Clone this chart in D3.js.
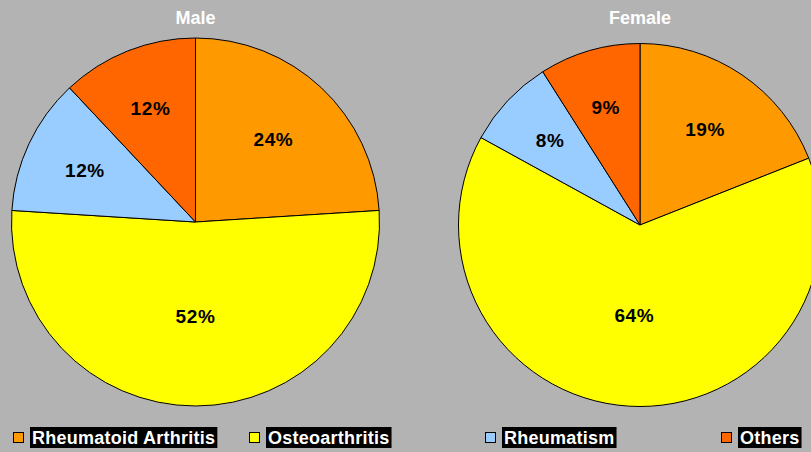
<!DOCTYPE html>
<html>
<head>
<meta charset="utf-8">
<script src="https://cdn.jsdelivr.net/npm/d3@7"></script>
<style>
  body { margin: 0; background: #b3b3b3; }
  svg { display: block; font-family: "Liberation Sans", Arial, sans-serif; font-weight: bold; }
  .slice { stroke: #000; stroke-width: 1; }
  .title { fill: #fff; font-size: 18px; }
  .pct { fill: #000; font-size: 19px; letter-spacing: 0.6px; }
  .legtext { fill: #fff; font-size: 18px; letter-spacing: 0.25px; }
</style>
</head>
<body>
<svg></svg>
<script>
var categories = ["Rheumatoid Arthritis", "Osteoarthritis", "Rheumatism", "Others"];
var maleValues = [24, 52, 12, 12];
var femaleValues = [19, 64, 8, 9];
var colors = ["#ff9900", "#ffff00", "#99ccff", "#ff6600"];

var width = 811, height = 452;
var svg = d3.select("svg").attr("width", width).attr("height", height);

svg.append("rect").attr("width", width).attr("height", height).attr("fill", "#b3b3b3");

var color = d3.scaleOrdinal().domain(categories).range(colors);

var pies = [
  { title: "Male", values: maleValues, cx: 195.5, cy: 222, r: 184 },
  { title: "Female", values: femaleValues, cx: 640, cy: 225, r: 181.5 }
];

var pie = d3.pie().sort(null).value(d => d.value);

pies.forEach(p => {
  var data = categories.map((c, i) => ({ name: c, value: p.values[i] }));
  var total = d3.sum(p.values);
  var arc = d3.arc().innerRadius(0).outerRadius(p.r);
  var g = svg.append("g").attr("transform", "translate(" + p.cx + "," + p.cy + ")");

  g.selectAll("path")
    .data(pie(data))
    .enter()
    .append("path")
    .attr("class", "slice")
    .attr("fill", d => color(d.data.name))
    .attr("d", arc);

  // labels sit closer to centre for bigger slices
  g.selectAll("text")
    .data(pie(data))
    .enter()
    .append("text")
    .attr("class", "pct")
    .attr("text-anchor", "middle")
    .attr("dy", "0.36em")
    .attr("transform", d => {
      var a = (d.startAngle + d.endAngle) / 2;
      var k = Math.max(0.5, 0.71 - 0.38 * d.data.value / total);
      return "translate(" + (Math.sin(a) * p.r * k) + "," + (-Math.cos(a) * p.r * k) + ")";
    })
    .text(d => d.data.value + "%");

  svg.append("text")
    .attr("class", "title")
    .attr("x", p.cx)
    .attr("y", 24)
    .attr("text-anchor", "middle")
    .text(p.title);
});

// legend
var lx = d3.scaleLinear().domain([0, 3]).range([13, 721]);
var leg = svg.selectAll(".leg")
  .data(categories)
  .enter()
  .append("g")
  .attr("class", "leg")
  .attr("transform", (d, i) => "translate(" + Math.round(lx(i)) + ",0)");

leg.append("rect")
  .attr("x", 0.5).attr("y", 432.5)
  .attr("width", 10).attr("height", 10)
  .attr("fill", d => color(d))
  .attr("stroke", "#000");

var bg = leg.append("rect")
  .attr("x", 17).attr("y", 427)
  .attr("height", 21)
  .attr("fill", "#000");

var lt = leg.append("text")
  .attr("class", "legtext")
  .attr("x", 19)
  .attr("y", 444)
  .text(d => d);

lt.each(function(d, i) {
  var w = this.getComputedTextLength();
  d3.select(bg.nodes()[i]).attr("width", w + 4);
});
</script>
</body>
</html>
